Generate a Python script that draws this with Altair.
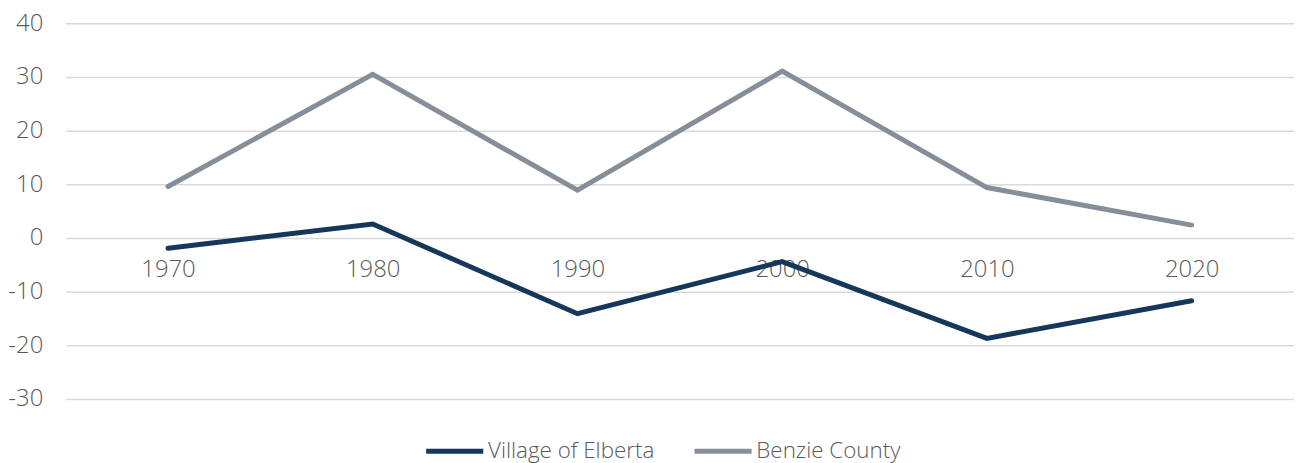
import altair as alt
import pandas as pd

years = ["1970", "1980", "1990", "2000", "2010", "2020"]
elberta = [-1.9, 2.6, -14.1, -4.4, -18.7, -11.7]
benzie = [9.6, 30.5, 8.9, 31.1, 9.4, 2.4]
series_names = ["Village of Elberta", "Benzie County"]

rows = []
for y, v in zip(years, elberta):
    rows.append({"year": y, "value": v, "series": series_names[0]})
for y, v in zip(years, benzie):
    rows.append({"year": y, "value": v, "series": series_names[1]})
df = pd.DataFrame(rows)

FONT = "Open Sans"
TXT = "#595959"

chart = alt.Chart(df).mark_line(strokeWidth=5, strokeCap="round", strokeJoin="miter").encode(
    x=alt.X("year:N", sort=years, title=None,
            scale=alt.Scale(type="point", padding=0.5, round=False),
            axis=alt.Axis(orient="bottom", offset=-162, domain=False, ticks=False,
                          labelAngle=0, labelFontSize=24, labelColor=TXT, labelFont=FONT,
                          labelFontWeight=300, labelPadding=20, grid=False)),
    y=alt.Y("value:Q", title=None,
            scale=alt.Scale(domain=[-30, 40], nice=False),
            axis=alt.Axis(values=list(range(-30, 41, 10)), domain=False, ticks=False,
                          labelExpr="'' + datum.value",
                          labelFontSize=24, labelColor=TXT, labelFont=FONT, labelFontWeight=300,
                          labelPadding=23, gridColor="#d9d9d9", gridWidth=1.5)),
    color=alt.Color("series:N", sort=series_names, title=None,
                    scale=alt.Scale(domain=series_names, range=["#14375a", "#868e99"]),
                    legend=alt.Legend(orient="none", legendX=360, legendY=399, direction="horizontal",
                                      symbolType="stroke", symbolSize=3300, symbolStrokeWidth=5,
                                      labelFontSize=22.5, labelColor=TXT, labelFont=FONT,
                                      labelFontWeight=300, labelOffset=2, columnPadding=29,
                                      labelLimit=400, padding=0)),
    order=alt.Order("series:N"),
).properties(
    width=1236, height=378,
    autosize=alt.AutoSizeParams(type="none"),
    padding={"left": 58, "top": 14, "right": 0, "bottom": 63},
).configure_view(stroke=None)

chart.save("out.html", embed_options={"renderer": "svg", "actions": False})
